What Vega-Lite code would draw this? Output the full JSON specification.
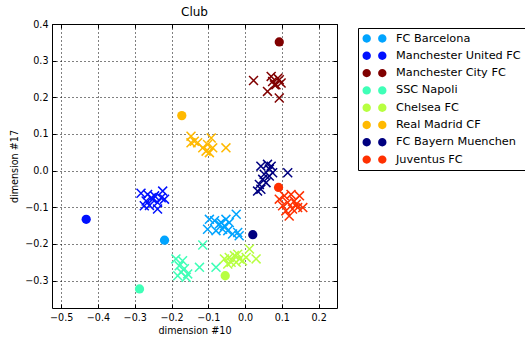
{
  "$schema": "https://vega.github.io/schema/vega-lite/v6.json",
  "width": 285,
  "height": 284,
  "autosize": "none",
  "padding": {"left": 52, "top": 24, "right": 188, "bottom": 29},
  "title": {"text": "Club", "fontSize": 12, "fontWeight": "normal", "font": "DejaVu Sans", "color": "black", "offset": 0},
  "config": {
    "font": "DejaVu Sans",
    "view": {"stroke": "black", "strokeWidth": 1}
  },
  "data": {
    "values": [
      {"club": "FC Barcelona", "kind": "sample", "x": -0.097, "y": -0.133},
      {"club": "FC Barcelona", "kind": "sample", "x": -0.083, "y": -0.137},
      {"club": "FC Barcelona", "kind": "sample", "x": -0.070, "y": -0.146},
      {"club": "FC Barcelona", "kind": "sample", "x": -0.056, "y": -0.151},
      {"club": "FC Barcelona", "kind": "sample", "x": -0.043, "y": -0.142},
      {"club": "FC Barcelona", "kind": "sample", "x": -0.024, "y": -0.119},
      {"club": "FC Barcelona", "kind": "sample", "x": -0.102, "y": -0.160},
      {"club": "FC Barcelona", "kind": "sample", "x": -0.079, "y": -0.164},
      {"club": "FC Barcelona", "kind": "sample", "x": -0.061, "y": -0.160},
      {"club": "FC Barcelona", "kind": "sample", "x": -0.047, "y": -0.164},
      {"club": "FC Barcelona", "kind": "sample", "x": -0.034, "y": -0.173},
      {"club": "FC Barcelona", "kind": "sample", "x": -0.020, "y": -0.169},
      {"club": "FC Barcelona", "kind": "sample", "x": -0.065, "y": -0.142},
      {"club": "FC Barcelona", "kind": "sample", "x": -0.052, "y": -0.133},
      {"club": "FC Barcelona", "kind": "sample", "x": -0.016, "y": -0.178},
      {"club": "Manchester United FC", "kind": "sample", "x": -0.283, "y": -0.062},
      {"club": "Manchester United FC", "kind": "sample", "x": -0.265, "y": -0.065},
      {"club": "Manchester United FC", "kind": "sample", "x": -0.246, "y": -0.069},
      {"club": "Manchester United FC", "kind": "sample", "x": -0.224, "y": -0.056},
      {"club": "Manchester United FC", "kind": "sample", "x": -0.269, "y": -0.083},
      {"club": "Manchester United FC", "kind": "sample", "x": -0.251, "y": -0.078},
      {"club": "Manchester United FC", "kind": "sample", "x": -0.238, "y": -0.087},
      {"club": "Manchester United FC", "kind": "sample", "x": -0.228, "y": -0.074},
      {"club": "Manchester United FC", "kind": "sample", "x": -0.260, "y": -0.095},
      {"club": "Manchester United FC", "kind": "sample", "x": -0.238, "y": -0.105},
      {"club": "Manchester United FC", "kind": "sample", "x": -0.274, "y": -0.096},
      {"club": "Manchester United FC", "kind": "sample", "x": -0.219, "y": -0.078},
      {"club": "Manchester United FC", "kind": "sample", "x": -0.255, "y": -0.074},
      {"club": "Manchester City FC", "kind": "sample", "x": 0.023, "y": 0.246},
      {"club": "Manchester City FC", "kind": "sample", "x": 0.061, "y": 0.216},
      {"club": "Manchester City FC", "kind": "sample", "x": 0.071, "y": 0.257},
      {"club": "Manchester City FC", "kind": "sample", "x": 0.075, "y": 0.243},
      {"club": "Manchester City FC", "kind": "sample", "x": 0.084, "y": 0.234},
      {"club": "Manchester City FC", "kind": "sample", "x": 0.093, "y": 0.248},
      {"club": "Manchester City FC", "kind": "sample", "x": 0.098, "y": 0.239},
      {"club": "Manchester City FC", "kind": "sample", "x": 0.093, "y": 0.198},
      {"club": "Manchester City FC", "kind": "sample", "x": 0.080, "y": 0.234},
      {"club": "Manchester City FC", "kind": "sample", "x": 0.089, "y": 0.252},
      {"club": "SSC Napoli", "kind": "sample", "x": -0.188, "y": -0.241},
      {"club": "SSC Napoli", "kind": "sample", "x": -0.170, "y": -0.246},
      {"club": "SSC Napoli", "kind": "sample", "x": -0.179, "y": -0.260},
      {"club": "SSC Napoli", "kind": "sample", "x": -0.165, "y": -0.268},
      {"club": "SSC Napoli", "kind": "sample", "x": -0.174, "y": -0.277},
      {"club": "SSC Napoli", "kind": "sample", "x": -0.156, "y": -0.282},
      {"club": "SSC Napoli", "kind": "sample", "x": -0.183, "y": -0.287},
      {"club": "SSC Napoli", "kind": "sample", "x": -0.124, "y": -0.264},
      {"club": "SSC Napoli", "kind": "sample", "x": -0.079, "y": -0.264},
      {"club": "SSC Napoli", "kind": "sample", "x": -0.115, "y": -0.203},
      {"club": "SSC Napoli", "kind": "sample", "x": -0.160, "y": -0.291},
      {"club": "Chelsea FC", "kind": "sample", "x": -0.056, "y": -0.241},
      {"club": "Chelsea FC", "kind": "sample", "x": -0.043, "y": -0.237},
      {"club": "Chelsea FC", "kind": "sample", "x": -0.029, "y": -0.232},
      {"club": "Chelsea FC", "kind": "sample", "x": -0.020, "y": -0.228},
      {"club": "Chelsea FC", "kind": "sample", "x": -0.015, "y": -0.241},
      {"club": "Chelsea FC", "kind": "sample", "x": -0.024, "y": -0.250},
      {"club": "Chelsea FC", "kind": "sample", "x": -0.038, "y": -0.250},
      {"club": "Chelsea FC", "kind": "sample", "x": -0.007, "y": -0.246},
      {"club": "Chelsea FC", "kind": "sample", "x": 0.012, "y": -0.214},
      {"club": "Chelsea FC", "kind": "sample", "x": 0.030, "y": -0.241},
      {"club": "Chelsea FC", "kind": "sample", "x": 0.003, "y": -0.237},
      {"club": "Chelsea FC", "kind": "sample", "x": -0.047, "y": -0.255},
      {"club": "Real Madrid CF", "kind": "sample", "x": -0.147, "y": 0.094},
      {"club": "Real Madrid CF", "kind": "sample", "x": -0.138, "y": 0.080},
      {"club": "Real Madrid CF", "kind": "sample", "x": -0.129, "y": 0.076},
      {"club": "Real Madrid CF", "kind": "sample", "x": -0.115, "y": 0.062},
      {"club": "Real Madrid CF", "kind": "sample", "x": -0.106, "y": 0.053},
      {"club": "Real Madrid CF", "kind": "sample", "x": -0.092, "y": 0.089},
      {"club": "Real Madrid CF", "kind": "sample", "x": -0.088, "y": 0.062},
      {"club": "Real Madrid CF", "kind": "sample", "x": -0.097, "y": 0.049},
      {"club": "Real Madrid CF", "kind": "sample", "x": -0.052, "y": 0.062},
      {"club": "Real Madrid CF", "kind": "sample", "x": -0.147, "y": 0.076},
      {"club": "Real Madrid CF", "kind": "sample", "x": -0.102, "y": 0.071},
      {"club": "FC Bayern Muenchen", "kind": "sample", "x": 0.043, "y": 0.012},
      {"club": "FC Bayern Muenchen", "kind": "sample", "x": 0.061, "y": 0.017},
      {"club": "FC Bayern Muenchen", "kind": "sample", "x": 0.066, "y": 0.004},
      {"club": "FC Bayern Muenchen", "kind": "sample", "x": 0.052, "y": -0.010},
      {"club": "FC Bayern Muenchen", "kind": "sample", "x": 0.048, "y": -0.024},
      {"club": "FC Bayern Muenchen", "kind": "sample", "x": 0.039, "y": -0.038},
      {"club": "FC Bayern Muenchen", "kind": "sample", "x": 0.034, "y": -0.056},
      {"club": "FC Bayern Muenchen", "kind": "sample", "x": 0.066, "y": -0.015},
      {"club": "FC Bayern Muenchen", "kind": "sample", "x": 0.057, "y": -0.033},
      {"club": "FC Bayern Muenchen", "kind": "sample", "x": 0.075, "y": -0.006},
      {"club": "FC Bayern Muenchen", "kind": "sample", "x": 0.116, "y": -0.006},
      {"club": "FC Bayern Muenchen", "kind": "sample", "x": 0.071, "y": 0.012},
      {"club": "FC Bayern Muenchen", "kind": "sample", "x": 0.043, "y": -0.051},
      {"club": "Juventus FC", "kind": "sample", "x": 0.093, "y": -0.078},
      {"club": "Juventus FC", "kind": "sample", "x": 0.107, "y": -0.069},
      {"club": "Juventus FC", "kind": "sample", "x": 0.125, "y": -0.065},
      {"club": "Juventus FC", "kind": "sample", "x": 0.148, "y": -0.069},
      {"club": "Juventus FC", "kind": "sample", "x": 0.116, "y": -0.087},
      {"club": "Juventus FC", "kind": "sample", "x": 0.134, "y": -0.083},
      {"club": "Juventus FC", "kind": "sample", "x": 0.143, "y": -0.101},
      {"club": "Juventus FC", "kind": "sample", "x": 0.157, "y": -0.101},
      {"club": "Juventus FC", "kind": "sample", "x": 0.129, "y": -0.105},
      {"club": "Juventus FC", "kind": "sample", "x": 0.111, "y": -0.110},
      {"club": "Juventus FC", "kind": "sample", "x": 0.120, "y": -0.124},
      {"club": "Juventus FC", "kind": "sample", "x": 0.102, "y": -0.096},
      {"club": "Juventus FC", "kind": "sample", "x": 0.139, "y": -0.092},
      {"club": "FC Barcelona", "kind": "mean", "x": -0.219, "y": -0.190},
      {"club": "Manchester United FC", "kind": "mean", "x": -0.432, "y": -0.133},
      {"club": "Manchester City FC", "kind": "mean", "x": 0.093, "y": 0.351},
      {"club": "SSC Napoli", "kind": "mean", "x": -0.287, "y": -0.323},
      {"club": "Chelsea FC", "kind": "mean", "x": -0.054, "y": -0.287},
      {"club": "Real Madrid CF", "kind": "mean", "x": -0.172, "y": 0.150},
      {"club": "FC Bayern Muenchen", "kind": "mean", "x": 0.021, "y": -0.175},
      {"club": "Juventus FC", "kind": "mean", "x": 0.091, "y": -0.046}
    ]
  },
  "resolve": {"axis": {"x": "independent", "y": "independent"}},
  "layer": [
    {
      "transform": [{"filter": "datum.kind === 'sample'"}],
      "mark": {"type": "point", "shape": "M-1,-1L1,1M1,-1L-1,1", "filled": false, "size": 80, "strokeWidth": 1.5, "opacity": 1},
      "encoding": {
        "x": {
          "field": "x", "type": "quantitative",
          "scale": {"domain": [-0.525, 0.25], "nice": false, "zero": false},
          "axis": {
            "orient": "bottom", "values": [-0.5, -0.4, -0.3, -0.2, -0.1, 0, 0.1, 0.2], "format": ".1f",
            "grid": true, "gridDash": [1, 3], "gridColor": "black", "gridOpacity": 1, "gridWidth": 1,
            "domain": false, "tickSize": -4, "tickColor": "black", "tickWidth": 1,
            "labelPadding": 8, "labelFontSize": 9.6, "labelColor": "black", "labelFlush": false,
            "title": "dimension #10", "titleFontSize": 9.6, "titleFontWeight": "normal", "titleColor": "black", "titlePadding": 4
          }
        },
        "y": {
          "field": "y", "type": "quantitative",
          "scale": {"domain": [-0.375, 0.4], "nice": false, "zero": false},
          "axis": {
            "orient": "left", "values": [-0.3, -0.2, -0.1, 0, 0.1, 0.2, 0.3, 0.4], "format": ".1f",
            "grid": true, "gridDash": [1, 3], "gridColor": "black", "gridOpacity": 1, "gridWidth": 1,
            "domain": false, "tickSize": -4, "tickColor": "black", "tickWidth": 1,
            "labelPadding": 8, "labelFontSize": 9.6, "labelColor": "black", "labelFlush": false,
            "title": "dimension #17", "titleFontSize": 9.6, "titleFontWeight": "normal", "titleColor": "black", "titlePadding": 5
          }
        },
        "color": {
          "field": "club", "type": "nominal",
          "scale": {
            "domain": ["FC Barcelona", "Manchester United FC", "Manchester City FC", "SSC Napoli", "Chelsea FC", "Real Madrid CF", "FC Bayern Muenchen", "Juventus FC"],
            "range": ["#00a4ff", "#0010ff", "#800000", "#3fffb7", "#b7ff40", "#ffb900", "#000080", "#ff3000"]
          }
        }
      }
    },
    {
      "transform": [{"filter": "datum.kind === 'mean'"}],
      "mark": {"type": "point", "shape": "circle", "filled": true, "size": 86, "strokeWidth": 0, "opacity": 1},
      "encoding": {
        "x": {
          "field": "x", "type": "quantitative",
          "axis": {"orient": "top", "values": [-0.5, -0.4, -0.3, -0.2, -0.1, 0, 0.1, 0.2], "labels": false, "grid": false, "domain": false, "tickSize": -4, "tickColor": "black", "title": null}
        },
        "y": {
          "field": "y", "type": "quantitative",
          "axis": {"orient": "right", "values": [-0.3, -0.2, -0.1, 0, 0.1, 0.2, 0.3, 0.4], "labels": false, "grid": false, "domain": false, "tickSize": -4, "tickColor": "black", "title": null}
        },
        "color": {
          "field": "club", "type": "nominal",
          "legend": {
            "title": null, "orient": "none", "legendX": 306, "legendY": 4,
            "symbolType": "M-2,0A0.7,0.7,0,1,1,-0.6,0A0.7,0.7,0,1,1,-2,0ZM0.6,0A0.7,0.7,0,1,1,2,0A0.7,0.7,0,1,1,0.6,0Z",
            "symbolSize": 144, "symbolStrokeWidth": 0, "symbolOpacity": 1, "symbolOffset": 6,
            "symbolFillColor": "black",
            "labelFontSize": 11.3, "labelOffset": 15.5, "labelColor": "black", "labelLimit": 220,
            "padding": 4.5, "rowPadding": 5.3, "strokeColor": "black", "fillColor": "white", "cornerRadius": 0,
            "encode": {"symbols": {"update": {"fill": {"scale": "color", "field": "value"}, "stroke": {"value": "transparent"}}}}
          }
        }
      }
    }
  ]
}
